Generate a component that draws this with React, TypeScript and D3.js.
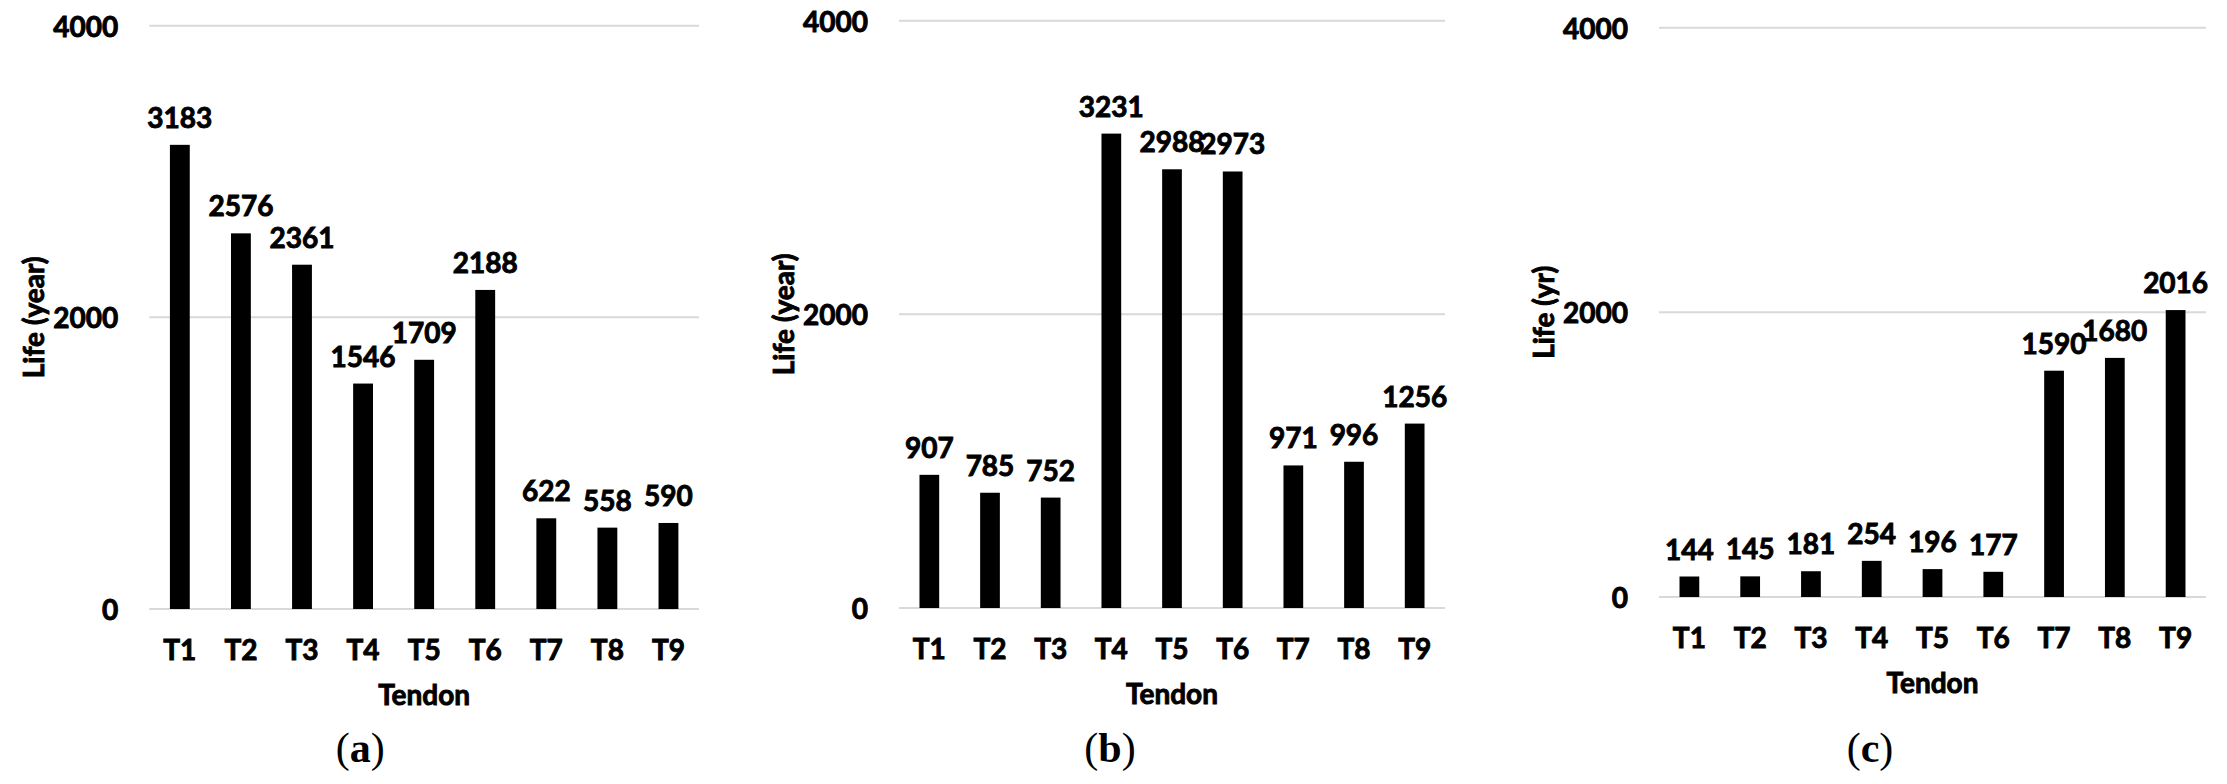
import React from 'react';
import * as d3 from 'd3';

const tendons = ['T1', 'T2', 'T3', 'T4', 'T5', 'T6', 'T7', 'T8', 'T9'];
const lifeA = [3183, 2576, 2361, 1546, 1709, 2188, 622, 558, 590];
const lifeB = [907, 785, 752, 3231, 2988, 2973, 971, 996, 1256];
const lifeC = [144, 145, 181, 254, 196, 177, 1590, 1680, 2016];
const yTicks = [0, 2000, 4000];
const yTitles = ['Life (year)', 'Life (year)', 'Life (yr)'];
const captions = ['a', 'b', 'c'];

// bold sans text, a thin stroke makes it as heavy as the original
const label = {
  fontFamily: 'Lato, "Open Sans", sans-serif',
  fontWeight: 'bold',
  fontSize: 28,
  stroke: 'black',
  strokeWidth: 0.9,
};

// plot boxes of the three panels
const panels = [
  { values: lifeA, left: 149.3, right: 699, top: 25.7, bottom: 609 },
  { values: lifeB, left: 899, right: 1445, top: 20.7, bottom: 608 },
  { values: lifeC, left: 1659, right: 2206, top: 27.7, bottom: 597 },
];

const Panel = ({ p, title, caption }) => {
  const xScale = d3
    .scaleBand()
    .domain(tendons)
    .range([p.left, p.right])
    .paddingInner(0.675)
    .paddingOuter(0.3375);

  const yScale = d3.scaleLinear().domain([0, 4000]).range([p.bottom, p.top]);

  const midX = (p.left + p.right) / 2;
  const midY = (p.top + p.bottom) / 2;

  return (
    <g>
      {yTicks.map(t => (
        <g key={`tick-${t}`}>
          <line
            x1={p.left}
            x2={p.right}
            y1={yScale(t)}
            y2={yScale(t)}
            stroke='#d9d9d9'
            strokeWidth={2}
          />
          <text
            x={p.left - 31}
            y={yScale(t)}
            textAnchor='end'
            dominantBaseline='central'
            {...label}
          >
            {t}
          </text>
        </g>
      ))}
      {p.values.map((v, i) => (
        <g key={`bar-${i}`}>
          <rect
            x={xScale(tendons[i])}
            y={yScale(v)}
            width={xScale.bandwidth()}
            height={yScale(0) - yScale(v)}
            fill='black'
          />
          <text
            x={xScale(tendons[i]) + xScale.bandwidth() / 2}
            y={yScale(v) - 17}
            textAnchor='middle'
            {...label}
          >
            {v}
          </text>
          <text
            x={xScale(tendons[i]) + xScale.bandwidth() / 2}
            y={p.bottom + 51}
            textAnchor='middle'
            {...label}
          >
            {tendons[i]}
          </text>
        </g>
      ))}
      <text x={midX} y={p.bottom + 96} textAnchor='middle' {...label}>
        Tendon
      </text>
      <text
        transform={`translate(${p.left - 116}, ${midY}) rotate(-90)`}
        textAnchor='middle'
        dominantBaseline='central'
        {...label}
      >
        {title}
      </text>
      <text
        x={p.left + 211}
        y={762}
        textAnchor='middle'
        fontFamily='"Liberation Serif", serif'
        fontSize={42}
      >
        (<tspan fontWeight='bold'>{caption}</tspan>)
      </text>
    </g>
  );
};

const App = () => {
  const width = 2227;
  const height = 784;
  return (
    <svg
      width={width}
      height={height}
      viewBox={`0 0 ${width} ${height}`}
      style={{ position: 'absolute', left: 0, top: 0, background: 'white' }}
    >
      {panels.map((p, i) => (
        <Panel key={`panel-${i}`} p={p} title={yTitles[i]} caption={captions[i]} />
      ))}
    </svg>
  );
};

export default App;
